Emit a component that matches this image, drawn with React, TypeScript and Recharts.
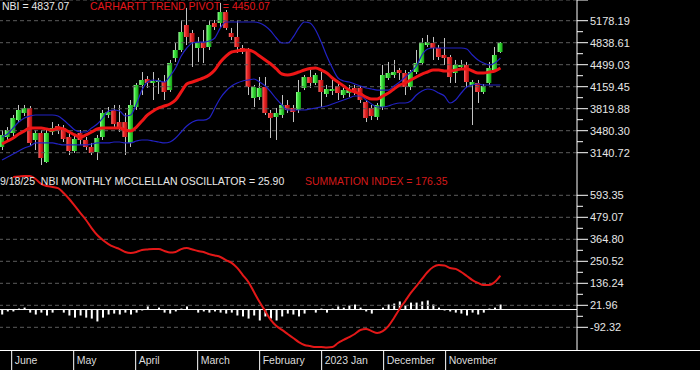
import React from 'react';
import { ComposedChart, Bar, Line, XAxis, YAxis, ReferenceLine } from 'recharts';

// NBI candles, one per bar slot
const opens = [
  3229, 3383, 3445, 3645, 3754, 3831, 3337, 3445, 2997, 3460,
  3552, 3522, 3383, 3167, 3445, 3337, 3229, 3151, 3383, 3723,
  3800, 3614, 3614, 3291, 3846, 4186, 4278, 4217, 4232, 4232,
  4108, 4602, 4726, 5112, 4988, 4757, 4849, 4772, 5143, 5143,
  5312, 4988, 4927, 4757, 4726, 3985, 4000, 4155, 3754, 3692,
  3723, 3877, 3831, 3800, 4140, 4309, 4217, 4263, 4047, 4093,
  4170, 4031, 4062, 4140, 4140, 3923, 3831, 3692, 3846, 4294,
  4340, 4417, 4371, 4155, 4386, 4525, 4803, 4834, 4757, 4649,
  4618, 4371, 4464, 4495, 4186, 4217, 4078, 4217, 4417, 4695,
];
const highs = [
  3491, 3537, 3723, 3877, 3877, 3861, 3491, 3491, 3522, 3614,
  3583, 3568, 3445, 3414, 3491, 3383, 3291, 3414, 3800, 3846,
  3877, 3877, 3754, 3954, 4217, 4386, 4324, 4386, 4294, 4340,
  4572, 4834, 5189, 5375, 5035, 4927, 5035, 5189, 5189, 5452,
  5343, 5066, 5189, 4803, 4757, 4186, 4309, 4309, 3800, 3831,
  4031, 3954, 3877, 4263, 4340, 4464, 4371, 4386, 4186, 4263,
  4232, 4140, 4186, 4186, 4170, 3954, 3877, 3908, 4495, 4541,
  4572, 4449, 4417, 4417, 4726, 4911, 4958, 4927, 4803, 4911,
  4649, 4572, 4572, 4541, 4263, 4263, 4201, 4541, 4772, 4849,
];
const lows = [
  3182, 3337, 3398, 3614, 3707, 3244, 3182, 2951, 2982, 3414,
  3429, 3306, 3105, 3136, 3260, 3182, 3105, 3028, 3337, 3677,
  3537, 3460, 3105, 3229, 3800, 4031, 4140, 3954, 4047, 3954,
  4078, 4541, 4695, 4803, 4464, 4541, 4525, 4726, 5035, 5066,
  5035, 4880, 4680, 4664, 4031, 3846, 3954, 3723, 3368, 3337,
  3677, 3754, 3614, 3754, 4108, 4140, 4186, 3846, 4000, 4031,
  3954, 3985, 4000, 4031, 3908, 3614, 3645, 3645, 3800, 4263,
  4294, 4263, 4031, 4108, 4355, 4495, 4772, 4572, 4572, 4495,
  4217, 4217, 4417, 4140, 3568, 3908, 4047, 4186, 4386, 4680,
];
const closes = [
  3414, 3491, 3677, 3800, 3831, 3291, 3445, 3059, 3445, 3522,
  3476, 3352, 3167, 3352, 3337, 3229, 3136, 3368, 3754, 3769,
  3583, 3522, 3383, 3877, 4186, 4263, 4217, 4248, 4263, 4078,
  4525, 4726, 5004, 4927, 4849, 4849, 4757, 5112, 5081, 5312,
  5066, 4927, 4772, 4695, 4155, 4155, 4140, 3754, 3677, 3754,
  3877, 3800, 3769, 4078, 4309, 4217, 4340, 4078, 4124, 4124,
  4062, 4108, 4108, 4078, 3954, 3677, 3707, 3877, 4340, 4371,
  4386, 4371, 4155, 4386, 4525, 4834, 4849, 4757, 4618, 4602,
  4309, 4495, 4495, 4232, 4232, 4078, 4170, 4448, 4649, 4837.07,
];

// Carhartt trend pivot (thick red) and the two blue bands
const pivot = [
  3275, 3321, 3368, 3429, 3476, 3522, 3522, 3522, 3506, 3491,
  3522, 3506, 3460, 3414, 3383, 3414, 3460, 3506, 3522, 3522,
  3522, 3522, 3491, 3476, 3537, 3630, 3723, 3785, 3831, 3861,
  3892, 3954, 4078, 4201, 4232, 4263, 4294, 4340, 4417, 4541,
  4633, 4695, 4711, 4726, 4726, 4695, 4633, 4572, 4510, 4433,
  4355, 4340, 4355, 4386, 4417, 4440, 4448, 4417, 4371, 4294,
  4232, 4170, 4108, 4078, 4047, 4000, 3970, 3970, 4016, 4062,
  4124, 4186, 4217, 4263, 4309, 4355, 4386, 4417, 4417, 4402,
  4402, 4417, 4433, 4433, 4402, 4371, 4371, 4386, 4402, 4450.07,
];
const upperBand = [
  3383, 3429, 3522, 3614, 3677, 3707, 3723, 3723, 3723, 3723,
  3707, 3645, 3568, 3491, 3460, 3460, 3522, 3583, 3677, 3785,
  3800, 3785, 3707, 3723, 3892, 4108, 4232, 4263, 4248, 4232,
  4324, 4448, 4633, 4757, 4834, 4849, 4849, 4865, 4911, 5066,
  5158, 5158, 5158, 5158, 5158, 5158, 5143, 5097, 5019, 4911,
  4834, 4834, 4927, 5066, 5158, 5143, 5035, 4849, 4633, 4448,
  4294, 4248, 4232, 4201, 4170, 4140, 4124, 4108, 4108, 4108,
  4170, 4232, 4309, 4386, 4479, 4649, 4741, 4757, 4757, 4757,
  4757, 4757, 4757, 4741, 4649, 4572, 4525, 4495, 4525, 4602,
];
const lowerBand = [
  3028, 3074, 3120, 3167, 3213, 3244, 3291, 3291, 3291, 3291,
  3275, 3260, 3260, 3260, 3260, 3260, 3275, 3291, 3291, 3291,
  3306, 3306, 3291, 3291, 3321, 3337, 3337, 3321, 3306, 3291,
  3306, 3368, 3460, 3552, 3614, 3645, 3645, 3677, 3831, 3985,
  4093, 4170, 4217, 4248, 4263, 4278, 4232, 4170, 4078, 3970,
  3877, 3800, 3800, 3800, 3800, 3815, 3831, 3846, 3861, 3892,
  3923, 3954, 3985, 4016, 4016, 3954, 3892, 3846, 3846, 3861,
  3892, 3908, 3908, 3939, 4031, 4093, 4124, 4108, 4062, 4016,
  3908, 3954, 4062, 4155, 4186, 4201, 4186, 4186, 4186, 4186,
];

// monthly McClellan oscillator (white bars) and summation index (red line)
const oscillator = [
  -26, -10, -10, 5, 10, -16, -26, -16, -31, -16,
  -2, -16, -31, -42, -31, -42, -47, -62, -42, -26,
  -21, -26, -16, -26, -16, -5, 16, 2, 10, -16,
  -21, -10, 5, 16, -2, -16, -10, -16, -10, -16,
  -21, -16, -31, -36, -47, -31, -57, -36, -47, -57,
  -36, -21, -26, -36, -21, -2, -16, 5, -16, 5,
  16, 10, 21, 26, 10, -10, -21, 2, 10, 26,
  31, 42, 21, 36, 36, 42, 47, 26, 10, -5,
  -10, -16, -21, -31, -16, -26, -16, 5, 10, 25.9,
];
const summation = [
  null, null, 688, 691, 694, 694, 678, 652, 642, 637,
  631, 605, 574, 538, 501, 465, 423, 387, 361, 340,
  325, 314, 299, 294, 299, 309, 312, 314, 314, 304,
  296, 299, 314, 319, 312, 304, 299, 288, 281, 273,
  257, 242, 216, 179, 143, 91, 39, -8, -54, -86,
  -106, -127, -148, -169, -184, -190, -195, -195, -197, -195,
  -174, -158, -143, -127, -106, -101, -112, -122, -112, -86,
  -44, 3, 44, 86, 122, 159, 195, 221, 231, 229,
  216, 211, 195, 174, 153, 138, 127, 127, 143, 176.35,
];

const priceTicks = [5178.19, 4838.61, 4499.03, 4159.45, 3819.88, 3480.3, 3140.72];
const priceMinorTicks = [5008.4, 4668.82, 4329.24, 3989.67, 3650.09, 3310.51];
const priceTop = 5497.7;
const oscTicks = [593.35, 479.07, 364.8, 250.52, 136.24, 21.96, -92.32];
const oscMinorTicks = [536.21, 421.94, 307.66, 193.38, 79.1, -35.18];

const monthLabels = ['June', 'May', 'April', 'March', 'February', '2023 Jan', 'December', 'November'];
const monthTicks = [1.73, 12.8, 23.87, 34.94, 46.01, 57.08, 68.15, 79.22];

const X_DOMAIN = [-0.357, 102.68];
const PRICE_DOMAIN = [2950.85, priceTop];
const OSC_DOMAIN = [-210.24, 750.75];

const FONT = '"Liberation Sans", Arial, sans-serif';
const GRID = '#5c5c5c';

const rows = opens.map((o, i) => ({
  i,
  open: o,
  high: highs[i],
  low: lows[i],
  close: closes[i],
  pivot: pivot[i],
  upper: upperBand[i],
  lower: lowerBand[i],
  osc: oscillator[i],
  sum: summation[i],
}));

const Candle = (props: any) => {
  const { x, y, width, height, payload } = props;
  if (x == null || !payload) return null;
  const top = Math.min(y, y + height);
  const h = Math.abs(height);
  const { open, close, high, low } = payload;
  const span = high - low || 1;
  const py = (v: number) => top + ((high - v) / span) * h;
  const bTop = py(Math.max(open, close));
  const bBot = py(Math.min(open, close));
  const up = close >= open;
  const cx = Math.round(x + width / 2) + 0.5;
  return (
    <g>
      <line x1={cx} x2={cx} y1={top} y2={top + h} stroke="#c4c4c4" strokeWidth={1} />
      <rect
        x={x}
        y={bTop}
        width={width}
        height={Math.max(1.5, bBot - bTop)}
        fill={up ? 'url(#candleUp)' : 'url(#candleDown)'}
      />
    </g>
  );
};

const axisTick = (majors: number[]) => (props: any) => {
  const { x, y, payload } = props;
  const v = payload.value;
  const isMajor = majors.includes(v);
  const isEdge = v === priceTop;
  return (
    <g>
      <line x1={x} x2={x + (isMajor || isEdge ? 11 : 6)} y1={y} y2={y} stroke="#ffffff" strokeWidth={1} />
      {isMajor && (
        <text x={x + 13} y={y + 4} fill="#e6e6e6" fontSize={11} fontFamily={FONT}>
          {v.toFixed(2)}
        </text>
      )}
    </g>
  );
};

const MonthTick = (props: any) => {
  const { x, y, payload } = props;
  const label = monthLabels[monthTicks.indexOf(payload.value)];
  return (
    <g>
      <line x1={x} x2={x} y1={y} y2={y + 20} stroke="#ffffff" strokeWidth={1} />
      <text x={x + 3} y={y + 14} fill="#dcdcdc" fontSize={10.5} fontFamily={FONT}>
        {label}
      </text>
    </g>
  );
};

const textStyle = (left: number, top: number, color: string): React.CSSProperties => ({
  position: 'absolute',
  left,
  top,
  color,
  fontFamily: FONT,
  fontSize: 10.5,
  lineHeight: '11px',
  whiteSpace: 'pre',
});

export default function App() {
  const last = rows.length - 1;
  return (
    <div style={{ position: 'absolute', left: 0, top: 0, width: 700, height: 370, background: '#000', overflow: 'hidden' }}>
      <svg width={0} height={0} style={{ position: 'absolute' }}>
        <defs>
          <linearGradient id="candleUp" x1="0" y1="0" x2="1" y2="0">
            <stop offset="0%" stopColor="#a8ffa8" />
            <stop offset="35%" stopColor="#3fe63f" />
            <stop offset="100%" stopColor="#139c13" />
          </linearGradient>
          <linearGradient id="candleDown" x1="0" y1="0" x2="1" y2="0">
            <stop offset="0%" stopColor="#ff7070" />
            <stop offset="35%" stopColor="#ee2a2a" />
            <stop offset="100%" stopColor="#a80c0c" />
          </linearGradient>
        </defs>
      </svg>

      <div style={{ position: 'absolute', left: 0, top: 0 }}>
        <ComposedChart width={700} height={165} data={rows} margin={{ top: 0, right: 0, bottom: 0, left: 0 }}>
          <XAxis dataKey="i" type="number" domain={X_DOMAIN} allowDataOverflow hide />
          <YAxis
            orientation="right"
            width={123}
            type="number"
            domain={PRICE_DOMAIN}
            allowDataOverflow
            ticks={[priceTop, ...priceTicks, ...priceMinorTicks]}
            interval={0}
            tick={axisTick(priceTicks)}
            tickLine={false}
            tickSize={0}
            tickMargin={0}
            axisLine={{ stroke: '#ffffff' }}
          />
          {[priceTop, ...priceTicks].map((v) => (
            <ReferenceLine key={v} y={v} stroke={GRID} strokeDasharray="4 3" />
          ))}
          <Bar
            dataKey={(d: any) => [d.low, d.high]}
            barSize={5}
            shape={<Candle />}
            isAnimationActive={false}
          />
          <Line type="monotone" dataKey="upper" stroke="#2222c4" strokeWidth={1.2} dot={false} activeDot={false} isAnimationActive={false} />
          <Line type="monotone" dataKey="lower" stroke="#2222c4" strokeWidth={1.2} dot={false} activeDot={false} isAnimationActive={false} />
          <Line type="monotone" dataKey="pivot" stroke="#ee1616" strokeWidth={3} dot={false} activeDot={false} isAnimationActive={false} />
        </ComposedChart>
      </div>

      <div style={{ position: 'absolute', left: 0, top: 165 }}>
        <ComposedChart width={700} height={205} data={rows} margin={{ top: 0, right: 0, bottom: 0, left: 0 }}>
          <XAxis
            dataKey="i"
            type="number"
            domain={X_DOMAIN}
            allowDataOverflow
            ticks={monthTicks}
            interval={0}
            tick={MonthTick}
            tickLine={false}
            tickSize={0}
            tickMargin={0}
            axisLine={false}
            height={20}
          />
          <YAxis
            orientation="right"
            width={123}
            type="number"
            domain={OSC_DOMAIN}
            allowDataOverflow
            ticks={[...oscTicks, ...oscMinorTicks]}
            interval={0}
            tick={axisTick(oscTicks)}
            tickLine={false}
            tickSize={0}
            tickMargin={0}
            axisLine={{ stroke: '#ffffff' }}
          />
          {oscTicks.map((v) => (
            <ReferenceLine key={v} y={v} stroke={GRID} strokeDasharray="4 3" />
          ))}
          <Bar dataKey="osc" barSize={2} fill="#ffffff" isAnimationActive={false} />
          <ReferenceLine y={0} stroke="#ffffff" strokeWidth={1} />
          <Line type="monotone" dataKey="sum" stroke="#e31818" strokeWidth={2} dot={false} activeDot={false} isAnimationActive={false} />
        </ComposedChart>
      </div>

      <div style={{ position: 'absolute', left: 0, top: 350, width: 700, height: 1, background: '#ffffff' }} />

      <div style={textStyle(2, 1, '#e8e8e8')}>{`NBI = ${closes[last].toFixed(2)}`}</div>
      <div style={textStyle(90, 1, '#e3161b')}>{`CARHARTT TREND PIVOT = ${pivot[last].toFixed(2)}`}</div>
      <div style={textStyle(0, 176, '#e8e8e8')}>
        {`9/18/25  NBI MONTHLY MCCLELLAN OSCILLATOR = ${oscillator[last].toFixed(2)}`}
      </div>
      <div style={textStyle(305, 176, '#d41a1a')}>{`SUMMATION INDEX = ${(summation[last] as number).toFixed(2)}`}</div>
    </div>
  );
}
